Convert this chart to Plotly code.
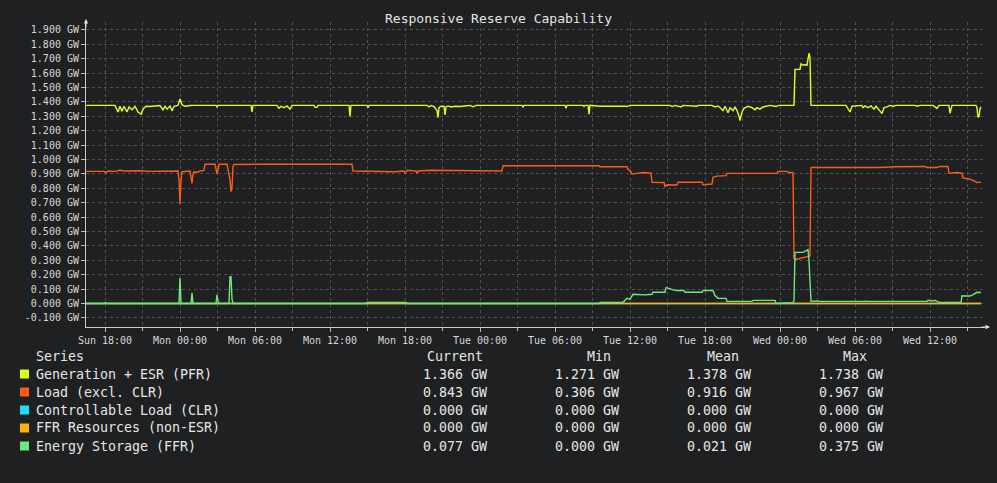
import pandas as pd
import plotly.graph_objects as go

BASE = pd.Timestamp("2024-01-07 00:00")  # a Sunday

# ---- data (hours since Sunday 00:00, GW) ----
gen_hours = [16.5, 18.8, 19.04, 19.2, 19.36, 19.52, 19.76, 19.92, 20.16, 20.4, 20.64, 20.88, 21.04, 21.28,
             21.6, 22.0, 22.4, 22.64, 22.8, 22.96, 23.2, 23.36, 23.52, 23.84, 24.0, 24.16, 24.4, 24.8, 25.04,
             26.88, 26.96, 27.04, 29.68, 29.76, 29.84, 31.76, 31.92, 32.08, 32.32, 32.56, 32.8, 32.96,
             34.72, 34.8, 34.96, 35.04, 37.52, 37.6, 37.68, 38.96, 39.04, 39.12,
             43.76, 43.92, 44.08, 44.32, 44.56, 44.64, 44.72, 44.88, 45.12, 45.2, 45.28, 45.44, 45.68, 46.0,
             46.4, 46.8, 47.2, 47.44, 47.68, 51.36, 51.44, 51.52, 54.8, 54.88, 54.96, 56.24, 56.32, 56.4,
             56.64, 56.72, 56.8, 57.6, 58.4, 58.64, 58.96, 59.6, 59.76, 60.0,
             63.2, 63.36, 63.6, 64.08, 64.24, 65.36, 65.44,
             66.56, 66.8, 67.04, 67.28, 67.44, 67.6, 67.84, 68.0, 68.24, 68.4, 68.56, 68.72, 68.8, 68.96,
             69.12, 69.28, 69.44, 69.76, 70.0, 70.16, 70.4, 70.64, 70.88, 71.2, 71.68, 71.92,
             73.12, 73.2, 73.6, 73.68, 73.84, 74.0, 74.16, 74.24, 74.32, 74.4, 74.48,
             77.28, 77.44, 77.6, 77.76, 78.56, 78.64, 78.8, 79.04, 79.28, 79.52, 79.68, 79.92, 80.16, 80.32,
             80.56, 80.8, 81.04, 81.28, 82.8, 82.96, 83.2, 84.24, 84.4, 84.56, 84.72, 85.52, 85.6, 85.68,
             85.76, 87.68, 87.76, 87.84, 87.92, 88.0, 88.08]
gen_values = [1.376, 1.376, 1.33, 1.37, 1.335, 1.37, 1.33, 1.365, 1.345, 1.37, 1.33, 1.315, 1.35, 1.37,
              1.368, 1.372, 1.375, 1.345, 1.37, 1.35, 1.372, 1.338, 1.37, 1.376, 1.42, 1.38, 1.37, 1.375, 1.376,
              1.376, 1.365, 1.376, 1.376, 1.33, 1.376, 1.376, 1.355, 1.37, 1.36, 1.372, 1.35, 1.376,
              1.376, 1.362, 1.362, 1.376, 1.376, 1.30, 1.376, 1.376, 1.36, 1.376,
              1.376, 1.365, 1.375, 1.368, 1.34, 1.29, 1.36, 1.37, 1.37, 1.31, 1.365, 1.372, 1.365, 1.37,
              1.368, 1.372, 1.376, 1.366, 1.376, 1.376, 1.365, 1.376, 1.376, 1.355, 1.376, 1.376, 1.368, 1.376,
              1.376, 1.315, 1.376, 1.37, 1.372, 1.37, 1.37, 1.37, 1.368, 1.376,
              1.376, 1.368, 1.376, 1.365, 1.376, 1.37, 1.376,
              1.376, 1.365, 1.372, 1.355, 1.34, 1.37, 1.325, 1.36, 1.34, 1.365, 1.34, 1.30, 1.271, 1.33,
              1.355, 1.362, 1.37, 1.36, 1.345, 1.36, 1.35, 1.365, 1.37, 1.376, 1.368, 1.376,
              1.376, 1.626, 1.626, 1.665, 1.655, 1.66, 1.655, 1.70, 1.738, 1.71, 1.376,
              1.376, 1.355, 1.33, 1.37, 1.376, 1.36, 1.372, 1.36, 1.372, 1.35, 1.37, 1.345, 1.32, 1.36,
              1.365, 1.376, 1.37, 1.376, 1.376, 1.37, 1.376, 1.376, 1.365, 1.355, 1.376, 1.376, 1.32, 1.35,
              1.376, 1.376, 1.36, 1.293, 1.30, 1.35, 1.366]

load_hours = [16.5, 17.92, 18.08, 18.24, 18.8, 19.2, 19.6, 20.8, 21.6, 23.2, 23.84, 23.92, 24.0, 24.08, 24.16,
              24.8, 24.88, 24.96, 25.04, 25.12, 25.44, 25.6, 25.92, 26.0, 26.8, 26.88, 26.96, 27.04, 27.12,
              27.76, 27.84, 28.0, 28.08, 28.16, 28.24, 28.32, 30.4, 33.6, 35.2, 37.76, 37.84, 39.2, 40.4, 41.2,
              41.92, 42.0, 42.16, 42.64, 42.88, 42.96, 43.04, 44.0, 48.56, 48.64, 49.76, 49.84, 53.6, 57.52,
              57.6, 59.76, 59.84, 60.08, 60.16, 61.04, 61.68, 61.76, 62.72, 62.8, 62.96, 63.76, 63.84, 65.76,
              65.84, 66.56, 66.64, 66.96, 67.68, 67.76, 71.76, 71.84, 72.56, 72.64, 73.04, 73.12, 73.28, 73.84,
              74.24, 74.4, 74.48, 79.6, 79.76, 79.92, 81.2, 82.56, 83.6, 83.76, 84.56, 84.8, 85.44, 85.52,
              86.16, 86.56, 86.64, 87.12, 87.36, 87.52, 87.76, 88.08]
load_values = [0.918, 0.918, 0.908, 0.92, 0.918, 0.925, 0.92, 0.922, 0.918, 0.922, 0.92, 0.86, 0.689, 0.85, 0.915,
               0.92, 0.88, 0.835, 0.9, 0.915, 0.912, 0.92, 0.925, 0.967, 0.967, 0.93, 0.90, 0.93, 0.967,
               0.967, 0.925, 0.86, 0.777, 0.80, 0.95, 0.965, 0.967, 0.965, 0.967, 0.967, 0.92, 0.918, 0.92, 0.915,
               0.92, 0.904, 0.925, 0.925, 0.92, 0.904, 0.92, 0.925, 0.925, 0.92, 0.92, 0.957, 0.958, 0.957,
               0.95, 0.95, 0.932, 0.915, 0.899, 0.91, 0.905, 0.842, 0.84, 0.811, 0.825, 0.823, 0.842, 0.842,
               0.825, 0.83, 0.876, 0.885, 0.888, 0.904, 0.904, 0.918, 0.918, 0.91, 0.91, 0.314, 0.306, 0.32,
               0.325, 0.33, 0.945, 0.945, 0.94, 0.945, 0.95, 0.952, 0.952, 0.945, 0.945, 0.952, 0.952, 0.904,
               0.91, 0.905, 0.872, 0.865, 0.86, 0.852, 0.84, 0.843]

clr_hours = [16.5, 88.08]
clr_values = [0.0, 0.0]

ffr_hours = [16.5, 88.08]
ffr_values = [0.0, 0.0]

es_hours = [16.5, 17.92, 18.0, 18.16, 23.92, 24.0, 24.08, 24.88, 24.96, 25.04, 26.88, 26.96, 27.04, 27.12,
            27.92, 28.0, 28.08, 28.16, 28.24, 38.88, 38.96, 42.08, 42.16, 57.52, 57.6, 59.36, 59.52, 59.76,
            60.0, 60.24, 61.2, 61.76, 61.84, 62.8, 62.88, 63.2, 63.68, 64.32, 64.4, 65.76, 65.84, 66.64, 66.8,
            67.04, 67.68, 67.76, 69.76, 69.84, 71.6, 71.68, 72.8, 73.04, 73.12, 73.2, 73.84, 74.0, 74.16,
            74.24, 74.32, 74.48, 75.04, 75.12, 78.8, 78.88, 78.96, 83.76, 83.84, 84.16, 84.4, 84.64, 84.8,
            86.48, 86.56, 86.8, 87.2, 87.44, 87.76, 88.08]
es_values = [0.0, 0.0, 0.006, 0.0, 0.0, 0.178, 0.0, 0.0, 0.075, 0.0, 0.0, 0.06, 0.02, 0.0,
             0.0, 0.186, 0.186, 0.03, 0.0, 0.0, 0.007, 0.007, 0.0, 0.0, 0.007, 0.007, 0.015, 0.036,
             0.03, 0.064, 0.06, 0.064, 0.078, 0.078, 0.11, 0.10, 0.09, 0.09, 0.078, 0.078, 0.09, 0.09, 0.055,
             0.036, 0.036, 0.015, 0.015, 0.022, 0.022, 0.0, 0.003, 0.005, 0.02, 0.355, 0.355, 0.363, 0.375,
             0.375, 0.30, 0.015, 0.018, 0.015, 0.015, 0.018, 0.015, 0.015, 0.022, 0.018, 0.022, 0.012, 0.007,
             0.007, 0.054, 0.052, 0.052, 0.062, 0.078, 0.077]

series_names = ["Generation + ESR (PFR)", "Load (excl. CLR)", "Controllable Load (CLR)",
                "FFR Resources (non-ESR)", "Energy Storage (FFR)"]
series_colors = ["#dfff1a", "#ff5a1a", "#1ae0ff", "#ffb300", "#6ee87e"]
current_vals = ["1.366 GW", "0.843 GW", "0.000 GW", "0.000 GW", "0.077 GW"]
min_vals = ["1.271 GW", "0.306 GW", "0.000 GW", "0.000 GW", "0.000 GW"]
mean_vals = ["1.378 GW", "0.916 GW", "0.000 GW", "0.000 GW", "0.021 GW"]
max_vals = ["1.738 GW", "0.967 GW", "0.000 GW", "0.000 GW", "0.375 GW"]
table_headers = ["Series", "Current", "Min", "Mean", "Max"]
y_tick_values = [-0.1, 0.0, 0.1, 0.2, 0.3, 0.4, 0.5, 0.6, 0.7, 0.8, 0.9, 1.0,
                 1.1, 1.2, 1.3, 1.4, 1.5, 1.6, 1.7, 1.8, 1.9]
title_text = "Responsive Reserve Capability"


def to_time(hours):
    return [BASE + pd.Timedelta(hours=h) for h in hours]


# ---- figure ----
W, H = 997, 483
L, R, T, B = 86, 985, 22, 327
BG = "#1f2022"
FG = "#d8d8d8"
FG2 = "#e6e6e6"
MONO = "DejaVu Sans Mono"

fig = go.Figure()
all_series = [(gen_hours, gen_values), (load_hours, load_values), (clr_hours, clr_values),
              (ffr_hours, ffr_values), (es_hours, es_values)]
for (hs, vs), name, col in zip(all_series, series_names, series_colors):
    fig.add_trace(go.Scatter(x=to_time(hs), y=vs, mode="lines", name=name,
                             line=dict(color=col, width=1.4), hoverinfo="skip"))

x0 = BASE + pd.Timedelta(hours=16.48)
x1 = BASE + pd.Timedelta(hours=88.4)

fig.update_layout(
    width=W, height=H,
    paper_bgcolor=BG, plot_bgcolor=BG,
    margin=dict(l=L, r=W - R, t=T, b=H - B, pad=0),
    showlegend=False,
    font=dict(family=MONO, color=FG, size=10),
)
fig.update_xaxes(
    range=[x0, x1], type="date",
    tickformat="%a %H:%M", dtick=6 * 3600 * 1000, tick0=BASE + pd.Timedelta(hours=18),
    showgrid=True, gridcolor="#505050", griddash="dot", gridwidth=1,
    minor=dict(dtick=3 * 3600 * 1000, tick0=BASE + pd.Timedelta(hours=18), showgrid=True,
               gridcolor="#505050", griddash="dot", ticks="outside", ticklen=3, tickcolor="#bbbbbb"),
    ticks="outside", ticklen=4, tickcolor="#bbbbbb",
    showline=True, linecolor="#cccccc", linewidth=1,
    tickfont=dict(family=MONO, size=10, color=FG),
    zeroline=False,
)
fig.update_yaxes(
    range=[-0.163, 1.955],
    tickmode="array",
    tickvals=y_tick_values,
    ticktext=[f"{v:.3f} GW" for v in y_tick_values],
    showgrid=True, gridcolor="#505050", griddash="dot", gridwidth=1,
    ticks="outside", ticklen=4, tickcolor="#bbbbbb",
    showline=True, linecolor="#cccccc", linewidth=1,
    tickfont=dict(family=MONO, size=10, color=FG),
    zeroline=False,
)


def px(xp):
    return (xp - L) / (R - L)


def py(yp):
    return (B - yp) / (B - T)


annotations = []
# title
annotations.append(dict(x=px(498), y=py(19), xref="paper", yref="paper", text=title_text,
                        showarrow=False, xanchor="center", yanchor="middle",
                        font=dict(family=MONO, size=13, color=FG2)))
# axis arrows
annotations.append(dict(x=0, y=py(19), xref="paper", yref="paper", text="", showarrow=True,
                        ax=0, ay=10, arrowhead=2, arrowsize=0.9, arrowwidth=1, arrowcolor="#e0e0e0"))
annotations.append(dict(x=px(990), y=0, xref="paper", yref="paper", text="", showarrow=True,
                        ax=-10, ay=0, arrowhead=2, arrowsize=0.9, arrowwidth=1, arrowcolor="#e0e0e0"))

# legend table
row_y0, row_dy = 374, 18
header_y = 356
FS = 13.3
annotations.append(dict(x=px(34), y=py(header_y), xref="paper", yref="paper", text=table_headers[0],
                        showarrow=False, xanchor="left", yanchor="middle", font=dict(family=MONO, size=FS, color=FG2)))
header_centers = [455, 599, 723, 855]
value_rights = [489, 621, 753, 885]
for hdr, cx in zip(table_headers[1:], header_centers):
    annotations.append(dict(x=px(cx), y=py(header_y), xref="paper", yref="paper", text=hdr,
                            showarrow=False, xanchor="center", yanchor="middle",
                            font=dict(family=MONO, size=FS, color=FG2)))
shapes = []
for i, (name, col) in enumerate(zip(series_names, series_colors)):
    yy = row_y0 + i * row_dy
    shapes.append(dict(type="rect", xref="paper", yref="paper",
                       x0=px(20), x1=px(29), y0=py(yy + 4.5), y1=py(yy - 4.5),
                       fillcolor=col, line=dict(width=0)))
    annotations.append(dict(x=px(34), y=py(yy), xref="paper", yref="paper", text=name,
                            showarrow=False, xanchor="left", yanchor="middle",
                            font=dict(family=MONO, size=FS, color=FG2)))
    for vals, xr in zip([current_vals, min_vals, mean_vals, max_vals], value_rights):
        annotations.append(dict(x=px(xr), y=py(yy), xref="paper", yref="paper", text=vals[i],
                                showarrow=False, xanchor="right", yanchor="middle",
                                font=dict(family=MONO, size=FS, color=FG2)))

fig.update_layout(annotations=annotations, shapes=shapes)
fig.write_html(
    "out.html",
    config={"displayModeBar": False},
    post_script="document.body.style.margin='0';document.body.style.background='#1f2022';"
                "document.body.style.overflow='hidden';",
)
